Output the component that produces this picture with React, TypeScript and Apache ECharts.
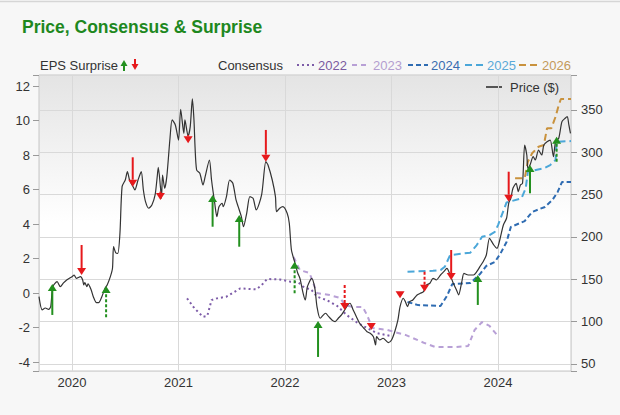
import React, { useEffect, useRef } from 'react';
import * as echarts from 'echarts';

// ---------- data (x = decimal year) ----------
const PRICE: [number, number][] = [
  [2019.69, 129.5], [2019.72, 113.8], [2019.75, 116.1], [2019.78, 114.6], [2019.8, 117.7],
  [2019.82, 141.3], [2019.86, 147.2], [2019.89, 141.3], [2019.92, 145.7], [2019.95, 149.2],
  [2020.0, 153.1], [2020.02, 155.1], [2020.04, 151.2], [2020.08, 153.1], [2020.1, 149.2],
  [2020.11, 143.3], [2020.12, 146.0], [2020.14, 141.3], [2020.15, 144.5], [2020.18, 137.4],
  [2020.2, 129.5], [2020.23, 122.4], [2020.25, 122.4], [2020.28, 129.5], [2020.31, 139.4],
  [2020.33, 143.3], [2020.36, 153.1], [2020.38, 163.0], [2020.39, 188.5], [2020.41, 181.4],
  [2020.43, 180.7], [2020.45, 204.3], [2020.47, 259.4], [2020.5, 267.3], [2020.52, 277.1],
  [2020.54, 267.3], [2020.57, 260.2], [2020.59, 255.5], [2020.62, 267.3], [2020.65, 277.1],
  [2020.67, 255.5], [2020.69, 241.7], [2020.72, 233.9], [2020.75, 237.8], [2020.78, 249.6],
  [2020.8, 271.2], [2020.81, 282.3], [2020.83, 259.4], [2020.84, 245.7], [2020.85, 273.2],
  [2020.87, 257.5], [2020.89, 271.2], [2020.92, 316.6], [2020.94, 338.2], [2020.97, 332.3],
  [2021.0, 314.5], [2021.02, 350.8], [2021.05, 322.4], [2021.06, 338.2], [2021.09, 319.3],
  [2021.11, 330.3], [2021.13, 363.0], [2021.145, 338.2], [2021.155, 306.6], [2021.17, 279.1],
  [2021.2, 275.2], [2021.23, 261.4], [2021.25, 271.2], [2021.29, 290.9], [2021.31, 267.3],
  [2021.34, 239.8], [2021.36, 224.0], [2021.38, 235.8], [2021.41, 239.8], [2021.42, 235.8],
  [2021.45, 247.6], [2021.48, 267.3], [2021.51, 263.4], [2021.54, 243.7], [2021.56, 235.8],
  [2021.59, 224.0], [2021.61, 212.1], [2021.64, 228.0], [2021.67, 247.6], [2021.7, 245.7],
  [2021.73, 231.9], [2021.78, 249.6], [2021.82, 288.9], [2021.84, 285.0], [2021.88, 267.3],
  [2021.91, 247.6], [2021.92, 229.9], [2021.95, 233.9], [2021.98, 235.8], [2022.02, 228.0],
  [2022.04, 216.2], [2022.06, 184.6], [2022.09, 170.8], [2022.12, 157.1], [2022.14, 151.2],
  [2022.17, 133.5], [2022.19, 125.6], [2022.21, 141.3], [2022.25, 151.2], [2022.28, 139.4],
  [2022.3, 117.7], [2022.33, 104.0], [2022.38, 109.9], [2022.41, 105.9], [2022.44, 102.0],
  [2022.47, 100.0], [2022.5, 104.0], [2022.53, 107.9], [2022.56, 113.8], [2022.59, 119.7],
  [2022.61, 121.7], [2022.64, 113.8], [2022.67, 105.9], [2022.7, 98.1], [2022.74, 92.2],
  [2022.77, 88.1], [2022.8, 86.3], [2022.83, 82.2], [2022.85, 72.4], [2022.86, 82.2],
  [2022.89, 78.3], [2022.92, 80.4], [2022.97, 75.2], [2023.0, 78.3], [2023.03, 88.1],
  [2023.06, 102.0], [2023.08, 117.7], [2023.11, 127.6], [2023.13, 123.6], [2023.15, 117.7],
  [2023.17, 123.6], [2023.2, 125.6], [2023.24, 131.5], [2023.27, 133.5], [2023.3, 135.4],
  [2023.33, 143.3], [2023.36, 145.3], [2023.39, 151.2], [2023.42, 149.2], [2023.46, 155.1],
  [2023.49, 159.0], [2023.52, 163.0], [2023.55, 155.1], [2023.58, 145.3], [2023.61, 137.4],
  [2023.63, 131.5], [2023.66, 147.2], [2023.68, 157.1], [2023.72, 155.1], [2023.77, 155.1],
  [2023.8, 159.0], [2023.83, 164.9], [2023.86, 170.8], [2023.89, 178.7], [2023.92, 198.5],
  [2023.96, 190.5], [2023.99, 186.6], [2024.02, 198.5], [2024.05, 214.2], [2024.08, 222.1],
  [2024.1, 239.8], [2024.12, 245.7], [2024.14, 257.5], [2024.17, 263.4], [2024.19, 253.5],
  [2024.21, 261.4], [2024.23, 263.4], [2024.25, 308.6], [2024.27, 296.8], [2024.28, 281.1],
  [2024.3, 285.0], [2024.33, 294.8], [2024.35, 290.9], [2024.38, 302.7], [2024.41, 296.8],
  [2024.43, 308.6], [2024.46, 312.5], [2024.49, 314.5], [2024.52, 294.8], [2024.54, 312.5],
  [2024.57, 316.6], [2024.6, 336.2], [2024.63, 340.2], [2024.65, 342.1], [2024.665, 332.3],
  [2024.68, 322.4],
];

const CONS_2022: [number, number][] = [
  [2021.08, -0.31], [2021.15, -0.89], [2021.23, -1.38], [2021.27, -1.33], [2021.31, -0.41],
  [2021.36, -0.31], [2021.45, -0.21], [2021.58, 0.27], [2021.73, 0.21], [2021.78, 0.46],
  [2021.83, 0.81], [2021.95, 0.79], [2022.05, 0.66], [2022.12, 0.64], [2022.17, 0.37],
  [2022.25, 0.17], [2022.3, -0.21], [2022.39, -0.41], [2022.49, -0.75], [2022.58, -1.28],
  [2022.67, -1.68], [2022.77, -2.03], [2022.86, -2.32], [2022.99, -2.49],
];
const CONS_2023: [number, number][] = [
  [2022.08, 2.09], [2022.14, 1.33], [2022.23, 1.16], [2022.3, 0.0], [2022.42, -0.12],
  [2022.52, -0.29], [2022.56, -0.7], [2022.64, -0.81], [2022.73, -0.81], [2022.77, -1.28],
  [2022.82, -2.03], [2022.96, -2.14], [2023.03, -2.26], [2023.13, -2.43], [2023.2, -2.61],
  [2023.31, -2.9], [2023.41, -3.13], [2023.6, -3.13], [2023.72, -3.07], [2023.78, -2.14],
  [2023.85, -1.68], [2023.92, -1.91], [2023.99, -2.43],
];
const CONS_2024: [number, number][] = [
  [2023.15, -0.52], [2023.25, -0.7], [2023.46, -0.75], [2023.52, -0.17], [2023.57, 0.52],
  [2023.74, 0.58], [2023.83, 1.1], [2023.89, 1.57], [2023.97, 1.8], [2024.02, 2.26],
  [2024.08, 2.96], [2024.12, 3.83], [2024.25, 4.17], [2024.32, 4.7], [2024.44, 4.99],
  [2024.51, 5.39], [2024.56, 5.86], [2024.6, 6.43], [2024.685, 6.43],
];
const CONS_2025: [number, number][] = [
  [2023.15, 1.23], [2023.39, 1.29], [2023.46, 1.33], [2023.5, 1.52], [2023.55, 2.2],
  [2023.74, 2.34], [2023.8, 2.78], [2023.85, 3.26], [2023.92, 3.36], [2023.97, 3.55],
  [2024.0, 3.94], [2024.08, 5.25], [2024.22, 5.49], [2024.26, 6.07], [2024.28, 7.03],
  [2024.43, 7.23], [2024.49, 7.42], [2024.54, 7.71], [2024.55, 8.77], [2024.685, 8.81],
];
const CONS_2026: [number, number][] = [
  [2024.16, 6.65], [2024.25, 6.65], [2024.28, 7.61], [2024.32, 8.1], [2024.38, 8.48],
  [2024.43, 8.58], [2024.46, 9.55], [2024.5, 9.55], [2024.54, 10.22], [2024.57, 10.9],
  [2024.59, 11.25], [2024.685, 11.25],
];

// EPS surprise arrows: [year, tail price, tip price, dashed (1) or solid (0)]
const ARROWS: [number, number, number, number][] = [
  [2019.815, 107.9, 144.5, 0], [2020.09, 190.5, 155.1, 0], [2020.32, 105.2, 142.1, 1],
  [2020.57, 294.1, 259.4, 0], [2020.83, 253.5, 243.7, 0], [2021.09, 320.4, 310.6, 0],
  [2021.32, 212.1, 249.6, 0], [2021.57, 188.5, 226.0, 0], [2021.82, 326.4, 288.9, 0],
  [2022.09, 133.5, 170.8, 1], [2022.31, 58.3, 100.8, 0], [2022.56, 143.3, 113.8, 1],
  [2022.81, 98.1, 90.2, 1], [2023.08, 133.5, 127.6, 0], [2023.31, 159.0, 135.4, 1],
  [2023.56, 184.6, 149.2, 0], [2023.81, 119.7, 155.1, 0], [2024.1, 277.1, 241.7, 0],
  [2024.3, 251.6, 285.0, 0], [2024.55, 288.9, 318.4, 1],
];

const CONSENSUS_YEARS = ['2022', '2023', '2024', '2025', '2026'];

// ---------- styles ----------
const FONT = 'Liberation Sans, Arial, Helvetica, sans-serif';
const TXT = '#333333';
const GREEN = '#23901f';
const RED = '#e6191c';
const CONS_COLORS = ['#7d5ca8', '#b8a0d6', '#2f6cb2', '#4ba7d9', '#c9923d'];
const CONS_TEXT = ['#7a5aa0', '#b49ed0', '#3a6cb0', '#5aa9d8', '#c49a5a'];
const CONS_DASH: (number[])[] = [[2, 3], [5, 4], [5, 3], [7, 4], [7, 4]];

const isInt = (v: number) => Math.abs(v - Math.round(v)) < 1e-6;

export default function App() {
  const ref = useRef<HTMLDivElement>(null);
  useEffect(() => {
    if (!ref.current) return;
    const chart = echarts.init(ref.current, undefined, { renderer: 'svg' });

    const consData = [CONS_2022, CONS_2023, CONS_2024, CONS_2025, CONS_2026];
    const consSeries = consData.map((d, i) => ({
      type: 'line',
      name: CONSENSUS_YEARS[i],
      yAxisIndex: 0,
      data: d,
      showSymbol: false,
      symbol: 'none',
      z: 3,
      lineStyle: { color: CONS_COLORS[i], width: 2, type: CONS_DASH[i] },
    }));

    // legend graphics
    const legendY = 65;
    const g: any[] = [
      { type: 'line', shape: { x1: 0, y1: 1.5, x2: 620, y2: 1.5 }, style: { stroke: '#d6d6d6', lineWidth: 1.5 } },
      {
        type: 'text', x: 22, y: 27,
        style: { text: 'Price, Consensus & Surprise', fontSize: 17.5, fontWeight: 'bold', fontFamily: FONT, fill: '#1e881e', textVerticalAlign: 'middle' },
      },
      { type: 'text', x: 40, y: legendY, style: { text: 'EPS Surprise', fontSize: 13, fontFamily: FONT, fill: TXT, textVerticalAlign: 'middle' } },
      // green up arrow
      { type: 'line', shape: { x1: 124, y1: 71, x2: 124, y2: 65 }, style: { stroke: GREEN, lineWidth: 2 } },
      { type: 'polygon', shape: { points: [[124, 60], [120.5, 66], [127.5, 66]] }, style: { fill: GREEN } },
      // red down arrow
      { type: 'line', shape: { x1: 135, y1: 59, x2: 135, y2: 65 }, style: { stroke: RED, lineWidth: 2 } },
      { type: 'polygon', shape: { points: [[135, 70], [131.5, 64], [138.5, 64]] }, style: { fill: RED } },
      { type: 'text', x: 218, y: legendY, style: { text: 'Consensus', fontSize: 13, fontFamily: FONT, fill: TXT, textVerticalAlign: 'middle' } },
      // Price legend
      { type: 'line', shape: { x1: 486, y1: 87, x2: 502, y2: 87 }, style: { stroke: '#555', lineWidth: 2 } },
      { type: 'text', x: 510, y: 87, style: { text: 'Price ($)', fontSize: 13, fontFamily: FONT, fill: TXT, textVerticalAlign: 'middle' } },
    ];
    const sampleX = [297, 352, 408, 465, 519];
    const sampleW = [18, 18, 20, 19, 20];
    CONSENSUS_YEARS.forEach((yr, i) => {
      g.push({
        type: 'line',
        shape: { x1: sampleX[i], y1: legendY, x2: sampleX[i] + sampleW[i], y2: legendY },
        style: { stroke: CONS_COLORS[i], lineWidth: 2, lineDash: CONS_DASH[i] },
      });
      g.push({
        type: 'text', x: sampleX[i] + sampleW[i] + 3, y: legendY,
        style: { text: yr, fontSize: 13, fontFamily: FONT, fill: CONS_TEXT[i], textVerticalAlign: 'middle' },
      });
    });

    const option: any = {
      animation: false,
      backgroundColor: '#f7f7f7',
      textStyle: { fontFamily: FONT },
      grid: {
        left: 39, right: 49, top: 75, bottom: 44,
        show: true,
        borderColor: '#c6c6c6',
        borderWidth: 1,
        backgroundColor: {
          type: 'linear', x: 0, y: 0, x2: 0, y2: 1,
          colorStops: [
            { offset: 0, color: '#e4e4e4' },
            { offset: 0.5, color: '#ffffff' },
            { offset: 1, color: '#ffffff' },
          ],
        },
      },
      xAxis: {
        type: 'value',
        min: 2019.69,
        max: 2024.685,
        splitNumber: 5,
        axisLine: { show: false },
        axisTick: { show: false },
        splitLine: { show: true, lineStyle: { color: '#d9d9d9', width: 1 } },
        axisLabel: {
          color: TXT, fontSize: 13, margin: 5,
          formatter: (v: number) => (isInt(v) ? String(Math.round(v)) : ''),
        },
      },
      yAxis: [
        {
          type: 'value',
          position: 'left',
          min: -4.52,
          max: 12.64,
          splitNumber: 8,
          axisLine: { show: false },
          axisTick: { show: true, length: 6, lineStyle: { color: '#999' } },
          splitLine: { show: false },
          axisLabel: {
            color: TXT, fontSize: 13, margin: 9,
            formatter: (v: number) => (isInt(v) ? String(Math.round(v)) : ''),
          },
        },
        {
          type: 'value',
          position: 'right',
          min: 41.7,
          max: 391.3,
          splitNumber: 7,
          axisLine: { show: false },
          axisTick: { show: true, length: 6, lineStyle: { color: '#999' } },
          splitLine: { show: true, lineStyle: { color: '#d9d9d9', width: 1 } },
          axisLabel: {
            color: TXT, fontSize: 13, margin: 10,
            formatter: (v: number) => (isInt(v) && Math.round(v) % 50 === 0 ? String(Math.round(v)) : ''),
          },
        },
      ],
      graphic: g,
      series: [
        ...consSeries,
        {
          type: 'line',
          name: 'Price ($)',
          yAxisIndex: 1,
          data: PRICE,
          showSymbol: false,
          symbol: 'none',
          smooth: 0.25,
          z: 4,
          lineStyle: { color: '#333333', width: 1.2 },
        },
        {
          type: 'custom',
          name: 'EPS Surprise',
          yAxisIndex: 1,
          z: 6,
          data: ARROWS,
          encode: { x: 0, y: [1, 2] },
          renderItem: (params: any, api: any) => {
            const x = api.value(0);
            const tailV = api.value(1);
            const tipV = api.value(2);
            const dashed = api.value(3) === 1;
            const tail = api.coord([x, tailV]);
            const tip = api.coord([x, tipV]);
            const up = tipV > tailV;
            const color = up ? GREEN : RED;
            const h = 7;
            const w = 4.5;
            const baseY = up ? tip[1] + h : tip[1] - h;
            const children: any[] = [];
            const needStem = up ? tail[1] > baseY : tail[1] < baseY;
            if (needStem) {
              children.push({
                type: 'line',
                shape: { x1: tip[0], y1: tail[1], x2: tip[0], y2: baseY },
                style: { stroke: color, lineWidth: 2, lineDash: dashed ? [3, 2] : null },
              });
            }
            children.push({
              type: 'polygon',
              shape: { points: [[tip[0], tip[1]], [tip[0] - w, baseY], [tip[0] + w, baseY]] },
              style: { fill: color },
            });
            return { type: 'group', children };
          },
        },
      ],
    };
    chart.setOption(option);
    return () => chart.dispose();
  }, []);

  return <div ref={ref} style={{ position: 'fixed', left: 0, top: 0, width: 620, height: 415 }} />;
}
